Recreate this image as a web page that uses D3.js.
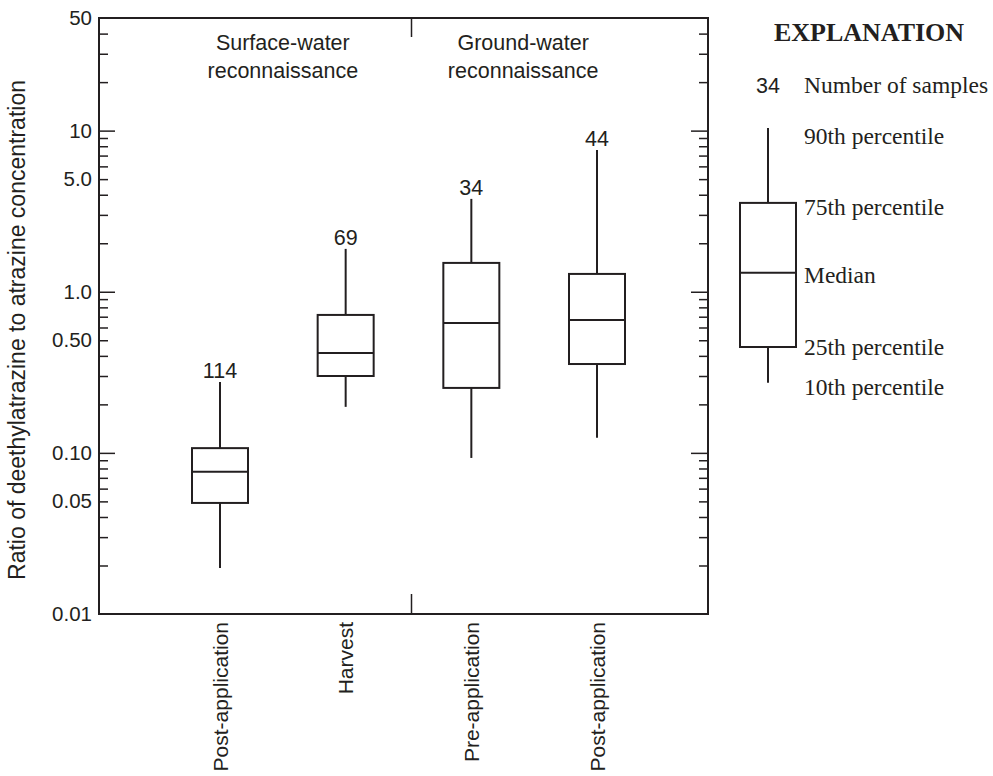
<!DOCTYPE html>
<html>
<head>
<meta charset="utf-8">
<script src="https://cdn.jsdelivr.net/npm/d3@7"></script>
<style>
  html, body { margin: 0; padding: 0; background: #fff; }
  svg { display: block; }
  .sans { font-family: "Liberation Sans", Arial, sans-serif; fill: #231f20; }
  .serif { font-family: "Liberation Serif", "Times New Roman", serif; fill: #231f20; }
</style>
</head>
<body>
<svg id="chart" width="993" height="776"></svg>
<script>
// Sampling periods (one box each) and the reconnaissance each belongs to
const categories = ["Post-application", "Harvest", "Pre-application", "Post-application"];
const groupOf = [0, 0, 1, 1];
const groups = [["Surface-water", "reconnaissance"], ["Ground-water", "reconnaissance"]];

// Ratio of deethylatrazine to atrazine concentration, percentiles per period
const p10 = [0.0193, 0.193, 0.093, 0.124];
const p25 = [0.0489, 0.300, 0.253, 0.356];
const p50 = [0.0764, 0.417, 0.640, 0.668];
const p75 = [0.107, 0.718, 1.51, 1.29];
const p90 = [0.275, 1.845, 3.77, 7.59];
const sampleCounts = [114, 69, 34, 44];

// Labelled y-axis values
const tickValues = [50, 10, 5, 1, 0.5, 0.1, 0.05, 0.01];
const tickLabels = ["50", "10", "5.0", "1.0", "0.50", "0.10", "0.05", "0.01"];

// Explanation (key) box
const keyValues = [0.272, 0.454, 1.31, 3.56, 10.4];
const keyLabels = ["10th percentile", "25th percentile", "Median", "75th percentile", "90th percentile"];
const keyCount = "34";

const ink = "#231f20";
const svg = d3.select("#chart");

const frame = { left: 99, right: 708, top: 18, bottom: 614 };
const y = d3.scaleLog().domain([0.01, 50]).range([frame.bottom, frame.top]);
const x = d3.scalePoint().domain(d3.range(categories.length)).range([220, 597]);
const boxW = 56;

// Tick marks: every 1–9 step inside the frame, longer at each decade
const allTicks = y.ticks().filter(v => v > 0.01 && v < 50);
const isDecade = v => Math.abs(Math.log10(v) - Math.round(Math.log10(v))) < 1e-9;
const minor = allTicks.filter(v => !isDecade(v));
const major = allTicks.filter(isDecade);

function tickAxis(axisFn, vals, size, xPos) {
  const g = svg.append("g")
    .attr("transform", `translate(${xPos},0)`)
    .call(axisFn(y).tickValues(vals).tickSize(size).tickFormat(""));
  g.select(".domain").remove();
  g.selectAll("line").attr("stroke", ink).attr("stroke-width", 1.5);
}
tickAxis(d3.axisRight, minor, 9, frame.left);
tickAxis(d3.axisRight, major, 16, frame.left);
tickAxis(d3.axisLeft, minor, 9, frame.right);
tickAxis(d3.axisLeft, major, 17, frame.right);

// Tick labels on the left
const labelAxis = svg.append("g")
  .attr("transform", `translate(${frame.left},0)`)
  .call(d3.axisLeft(y).tickValues(tickValues).tickSize(0).tickPadding(7)
    .tickFormat((d, i) => tickLabels[i]));
labelAxis.select(".domain").remove();
labelAxis.selectAll("text")
  .attr("class", "sans")
  .style("font-size", "20.5px")
  .attr("fill", ink);

// Frame
svg.append("rect")
  .attr("x", frame.left).attr("y", frame.top)
  .attr("width", frame.right - frame.left).attr("height", frame.bottom - frame.top)
  .attr("fill", "none").attr("stroke", ink).attr("stroke-width", 2);

// Divider between the two reconnaissances
const divX = (x(1) + x(2)) / 2 + 3;
svg.append("line").attr("x1", divX).attr("x2", divX)
  .attr("y1", frame.top).attr("y2", frame.top + 19)
  .attr("stroke", ink).attr("stroke-width", 1.5);
svg.append("line").attr("x1", divX).attr("x2", divX)
  .attr("y1", frame.bottom).attr("y2", frame.bottom - 20)
  .attr("stroke", ink).attr("stroke-width", 1.5);

// Group headings
const groupNudge = [0, -11];
groups.forEach((lines, gi) => {
  const members = d3.range(categories.length).filter(i => groupOf[i] === gi);
  const cx = d3.mean(members, i => x(i)) + groupNudge[gi];
  const t = svg.append("text").attr("class", "sans")
    .attr("text-anchor", "middle").style("font-size", "21.5px");
  lines.forEach((ln, li) => {
    t.append("tspan").attr("x", cx).attr("y", 50 + li * 28).text(ln);
  });
});

// Boxes
const boxes = svg.append("g").selectAll("g")
  .data(d3.range(categories.length)).join("g");

function drawBox(g, cx, lo, q1, med, q3, hi) {
  g.append("line").attr("x1", cx).attr("x2", cx)
    .attr("y1", y(hi)).attr("y2", y(q3))
    .attr("stroke", ink).attr("stroke-width", 2);
  g.append("line").attr("x1", cx).attr("x2", cx)
    .attr("y1", y(q1)).attr("y2", y(lo))
    .attr("stroke", ink).attr("stroke-width", 2);
  g.append("rect")
    .attr("x", cx - boxW / 2).attr("y", y(q3))
    .attr("width", boxW).attr("height", y(q1) - y(q3))
    .attr("fill", "none").attr("stroke", ink).attr("stroke-width", 2);
  g.append("line").attr("x1", cx - boxW / 2).attr("x2", cx + boxW / 2)
    .attr("y1", y(med)).attr("y2", y(med))
    .attr("stroke", ink).attr("stroke-width", 2);
}

boxes.each(function (i) {
  const g = d3.select(this);
  drawBox(g, x(i), p10[i], p25[i], p50[i], p75[i], p90[i]);
  g.append("text").attr("class", "sans")
    .attr("x", x(i)).attr("y", y(p90[i]) - 4)
    .attr("text-anchor", "middle").style("font-size", "21.5px")
    .text(sampleCounts[i]);
});

// Category labels, rotated under the frame
svg.append("g").selectAll("text")
  .data(categories).join("text")
  .attr("class", "sans")
  .attr("text-anchor", "end")
  .attr("transform", (d, i) => `translate(${x(i)},${frame.bottom + 8}) rotate(-90)`)
  .attr("dy", "0.36em")
  .style("font-size", "21px")
  .text(d => d);

// Y-axis title
svg.append("text").attr("class", "sans")
  .attr("text-anchor", "middle")
  .attr("transform", `translate(17,${(frame.top + frame.bottom) / 2 + 14}) rotate(-90)`)
  .attr("dy", "0.36em")
  .style("font-size", "23px")
  .text("Ratio of deethylatrazine to atrazine concentration");

// Explanation
const keyX = 768;
svg.append("text").attr("class", "serif")
  .attr("x", 869).attr("y", 41)
  .attr("text-anchor", "middle")
  .style("font-size", "26px").style("font-weight", "bold")
  .text("EXPLANATION");

svg.append("text").attr("class", "sans")
  .attr("x", keyX).attr("y", 93)
  .attr("text-anchor", "middle").style("font-size", "21.5px")
  .text(keyCount);
svg.append("text").attr("class", "serif")
  .attr("x", 804).attr("y", 93)
  .style("font-size", "23.5px")
  .text("Number of samples");

const keyG = svg.append("g");
drawBox(keyG, keyX, keyValues[0], keyValues[1], keyValues[2], keyValues[3], keyValues[4]);

const keyShift = [4, 0, 2, 4, 8];
keyG.selectAll("text.key")
  .data(keyLabels).join("text")
  .attr("class", "serif key")
  .attr("x", 804)
  .attr("y", (d, i) => y(keyValues[i]) + keyShift[i])
  .attr("dy", "0.35em")
  .style("font-size", "23.5px")
  .text(d => d);
</script>
</body>
</html>
